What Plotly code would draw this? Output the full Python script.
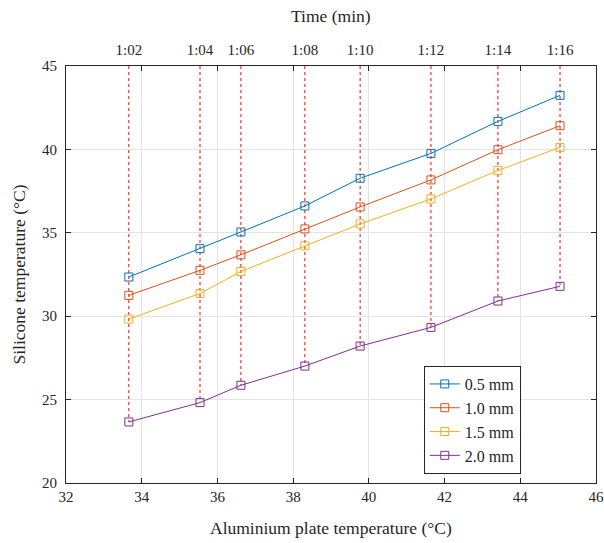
import plotly.graph_objects as go

plate_temp = [33.66, 35.54, 36.62, 38.31, 39.77, 41.64, 43.41, 45.05]
time_labels = ["1:02", "1:04", "1:06", "1:08", "1:10", "1:12", "1:14", "1:16"]
s_05 = [32.35, 34.05, 35.05, 36.61, 38.27, 39.76, 41.68, 43.24]
s_10 = [31.25, 32.75, 33.68, 35.23, 36.55, 38.17, 39.98, 41.42]
s_15 = [29.83, 31.36, 32.68, 34.22, 35.53, 37.03, 38.74, 40.12]
s_20 = [23.66, 24.82, 25.86, 27.01, 28.21, 29.33, 30.91, 31.79]
series_names = ["0.5 mm", "1.0 mm", "1.5 mm", "2.0 mm"]
colors = ["#0072BD", "#D95319", "#EDB120", "#7E2F8E"]
y_top = 45

font = "Liberation Serif, Times New Roman, serif"
fig = go.Figure()

# red dotted guide lines from top of axes to the lowest series
vx, vy = [], []
for x, y in zip(plate_temp, s_20):
    vx += [x, x, None]
    vy += [y_top, y, None]
fig.add_trace(go.Scatter(x=vx, y=vy, mode="lines", showlegend=False,
                         line=dict(color="red", width=1, dash="dot"),
                         hoverinfo="skip"))

for name, vals, c in zip(series_names, [s_05, s_10, s_15, s_20], colors):
    fig.add_trace(go.Scatter(x=plate_temp, y=vals, name=name, mode="lines+markers",
                             line=dict(color=c, width=1),
                             marker=dict(symbol="square-open", size=8, color=c,
                                         line=dict(width=1, color=c))))

# invisible trace to activate top axis
fig.add_trace(go.Scatter(x=plate_temp, y=s_20, xaxis="x2", mode="markers",
                         marker=dict(opacity=0), showlegend=False, hoverinfo="skip"))

fs = 15
ts = 17.5
axis_font = dict(family=font, size=fs, color="#262626")
title_font = dict(family=font, size=ts, color="#262626")
fig.update_layout(
    width=604, height=543,
    margin=dict(l=66, r=8, t=66, b=60),
    paper_bgcolor="white", plot_bgcolor="white",
    font=dict(family=font, size=fs, color="#262626"),
    xaxis=dict(range=[32, 46], dtick=2, tick0=32, showgrid=True,
               gridcolor="#e3e3e3", gridwidth=1, zeroline=False,
               showline=True, linecolor="#262626", linewidth=1, mirror="ticks",
               ticks="inside", ticklen=5, tickcolor="#262626",
               tickfont=axis_font, automargin=False),
    xaxis2=dict(range=[32, 46], overlaying="x", side="top",
                tickmode="array", tickvals=plate_temp, ticktext=time_labels,
                showgrid=False, zeroline=False, ticks="", tickfont=axis_font,
                ticklabelstandoff=7, automargin=False),
    yaxis=dict(range=[20, 45], dtick=5, tick0=20, showgrid=True,
               gridcolor="#e3e3e3", gridwidth=1, zeroline=False,
               showline=True, linecolor="#262626", linewidth=1, mirror="ticks",
               ticks="inside", ticklen=5, tickcolor="#262626",
               tickfont=axis_font, ticklabelstandoff=5, automargin=False),
    legend=dict(x=0.675, y=0.151, xanchor="left", yanchor="middle",
                bgcolor="white", bordercolor="#262626", borderwidth=1,
                font=dict(family=font, size=16, color="#262626"),
                tracegroupgap=0, itemwidth=30),
    showlegend=True,
    annotations=[
        dict(text="Aluminium plate temperature (°C)", xref="paper", yref="paper",
             x=0.5, y=0, xanchor="center", yanchor="middle", showarrow=False,
             font=title_font, yshift=-45),
        dict(text="Silicone temperature (°C)", xref="paper", yref="paper",
             x=0, y=0.5, xanchor="center", yanchor="middle", showarrow=False,
             textangle=-90, font=title_font, xshift=-48),
        dict(text="Time (min)", xref="paper", yref="paper",
             x=0.5, y=1, xanchor="center", yanchor="middle", showarrow=False,
             font=title_font, yshift=50),
    ],
)

fig.write_html("out.html", config={"displayModeBar": False},
               post_script="document.body.style.margin='0';"
                           "document.body.style.overflow='hidden';")
